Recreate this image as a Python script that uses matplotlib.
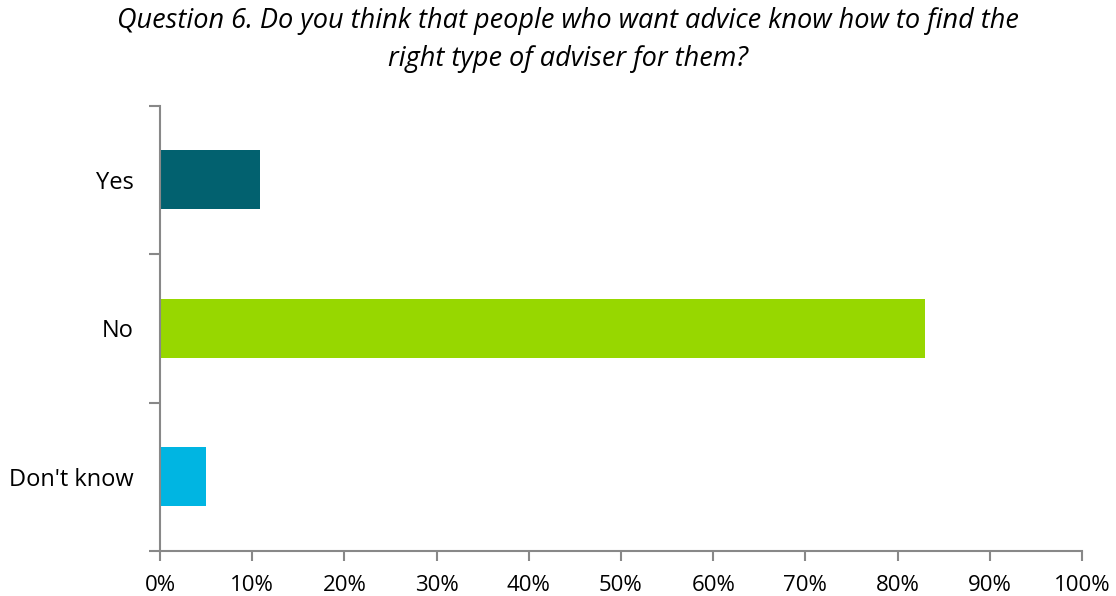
import numpy as np
import matplotlib.pyplot as plt
from matplotlib.ticker import PercentFormatter

plt.rcParams['font.family'] = ['Open Sans', 'DejaVu Sans']

# Survey responses
categories = ['Yes', 'No', "Don't know"]
shares = [10.8, 83.0, 5.0]
colors = ['#02616F', '#97D700', '#00B5E2']
title = ('Question 6. Do you think that people who want advice know how to find the\n'
         'right type of adviser for them?')

fig = plt.figure(figsize=(11.16, 5.96), dpi=100)
ax = fig.add_axes([160 / 1116, 1 - 551 / 596, 922 / 1116, (551 - 105.5) / 596])

pos = np.arange(len(categories)) + 0.5
ax.barh(pos, shares, height=0.4, color=colors)

ax.set_xlim(0, 100)
ax.set_ylim(len(categories), 0)
ax.xaxis.set_major_locator(plt.MultipleLocator(10))
ax.xaxis.set_major_formatter(PercentFormatter(decimals=0))

# category labels centred, ticks on the boundaries
ax.set_yticks(np.arange(len(categories) + 1))
ax.set_yticklabels([])
ax.set_yticks(pos, minor=True)
ax.set_yticklabels(categories, minor=True)
ax.tick_params(axis='y', which='minor', length=0, pad=19, labelsize=17)
ax.tick_params(axis='y', which='major', length=8, width=1.5, color='#888888')
ax.tick_params(axis='x', length=7, width=1.5, color='#888888', pad=10, labelsize=16)

for side in ['top', 'right']:
    ax.spines[side].set_visible(False)
for side in ['left', 'bottom']:
    ax.spines[side].set_color('#888888')
    ax.spines[side].set_linewidth(1.5)

fig.text(568 / 1116, 1 - 40 / 596, title, ha='center', va='center',
         fontsize=19.5, style='italic', linespacing=1.45)

fig.savefig('out.png', dpi=100)
